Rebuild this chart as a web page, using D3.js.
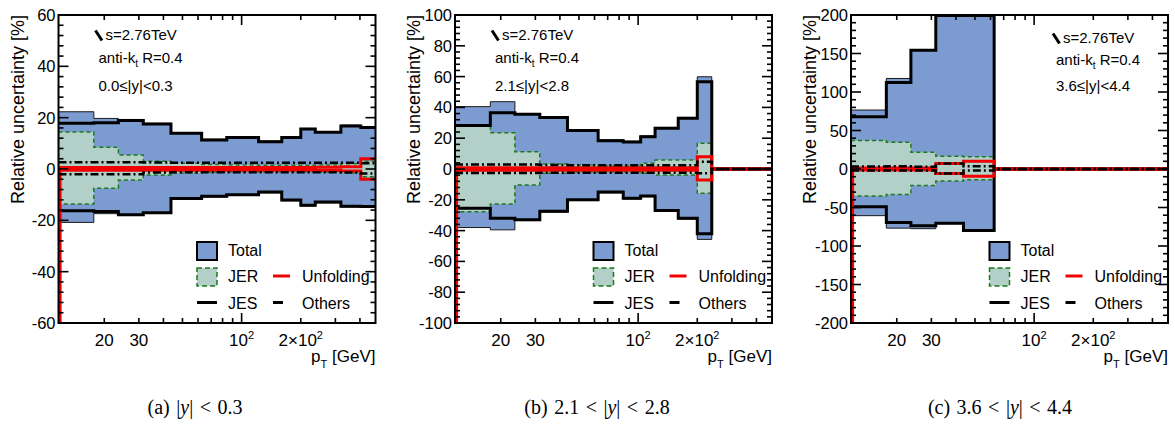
<!DOCTYPE html>
<html><head><meta charset="utf-8">
<script src="https://cdn.jsdelivr.net/npm/d3@7"></script>
<style>
body{margin:0;background:#fff}
svg text{font-family:"Liberation Sans",Arial,Helvetica,sans-serif;fill:#000}
</style>
</head><body>
<svg id="chart" width="1175" height="426"></svg>
<script>
// ---------- data ----------
const ptEdges = [11.7, 17.7, 23.6, 31.6, 43.7, 62.6, 84, 103, 122, 160, 200, 237, 320, 404, 480];
const ptDomain = [11.7, 480];
const xMinorTicks = [20, 30, 40, 50, 60, 70, 80, 90, 200, 300, 400];
const xMajorTicks = [100];
const xTickLabels = [["20", ""], ["30", ""], ["10", "2"], ["2×10", "2"]];
const xTickLabelPos = [20, 30, 100, 200];

// panel (a) 0.0<=|y|<0.3
const totalUpA = [22.3, 19.7, 19.3, 17.8, 14.2, 11.6, 12.6, 12.6, 10.9, 12.6, 15.8, 14.6, 17.1, 16.5];
const totalDnA = [-20.8, -17.4, -18.1, -17.3, -11.8, -10.9, -10.3, -10.3, -9.3, -12.4, -14.4, -13.2, -14.8, -14.9];
const jesUpA = [17.8, 18.0, 18.9, 17.5, 13.9, 11.3, 12.3, 12.3, 10.6, 12.3, 15.6, 14.3, 16.8, 16.2];
const jesDnA = [-16.3, -16.6, -17.8, -17.0, -11.5, -10.6, -10.0, -10.0, -9.0, -12.1, -14.1, -12.9, -14.5, -14.6];
const jerUpA = [14.4, 8.5, 5.5, 3.0, 2.2, 1.8, 1.6, 1.6, 1.5, 1.5, 1.5, 1.6, 2.0, 3.0];
const jerDnA = [-13.6, -7.5, -4.3, -2.3, -1.6, -1.3, -1.2, -1.2, -1.1, -1.1, -1.1, -1.2, -1.6, -3.0];
const othUpA = [2.6, 2.6, 2.6, 2.5, 2.4, 2.4, 2.4, 2.4, 2.4, 2.4, 2.4, 2.4, 2.4, 2.2];
const othDnA = [-2.0, -2.0, -2.0, -1.4, -1.3, -1.3, -1.3, -1.3, -1.3, -1.3, -1.3, -1.3, -1.4, -1.8];
const unfUpA = [0.6, 0.6, 0.6, 0.6, 0.6, 0.6, 0.6, 0.6, 0.6, 0.6, 0.6, 0.7, 0.9, 4.0];
const unfDnA = [-0.5, -0.5, -0.5, -0.5, -0.5, -0.5, -0.5, -0.5, -0.5, -0.5, -0.5, -0.6, -0.8, -4.0];

// panel (b) 2.1<=|y|<2.8
const totalUpB = [40.5, 43.7, 36.0, 34.0, 25.5, 19.0, 18.0, 21.5, 27.0, 33.5, 59.9, 0, 0, 0];
const totalDnB = [-38.0, -39.5, -33.5, -28.0, -20.5, -15.5, -19.5, -18.0, -27.5, -32.5, -45.7, 0, 0, 0];
const jesUpB = [28.2, 36.5, 35.5, 33.5, 25.0, 18.4, 17.5, 21.0, 26.4, 33.0, 56.7, 0, 0, 0];
const jesDnB = [-25.5, -32.0, -33.0, -27.5, -20.0, -15.0, -19.0, -17.5, -27.0, -32.0, -42.0, 0, 0, 0];
const jerUpB = [27.9, 23.6, 11.2, 3.2, 2.6, 2.0, 2.0, 3.7, 5.8, 5.8, 16.7, 0, 0, 0];
const jerDnB = [-27.7, -22.7, -10.4, -2.8, -2.0, -2.0, -2.0, -2.8, -3.9, -3.9, -15.8, 0, 0, 0];
const othUpB = [3.0, 3.0, 3.0, 2.6, 2.5, 2.5, 2.5, 2.5, 2.5, 2.5, 4.7, 0, 0, 0];
const othDnB = [-2.6, -2.6, -2.6, -2.4, -2.4, -2.4, -2.4, -2.4, -2.4, -2.4, -2.8, 0, 0, 0];
const unfUpB = [0.8, 0.8, 0.8, 0.8, 0.8, 0.8, 0.8, 0.8, 0.8, 0.8, 8.0, 0, 0, 0];
const unfDnB = [-0.8, -0.8, -0.8, -0.8, -0.8, -0.8, -0.8, -0.8, -0.8, -0.8, -7.1, 0, 0, 0];

// panel (c) 3.6<=|y|<4.4
const totalUpC = [76.6, 117.6, 155.0, 199.5, 199.5, 0, 0, 0, 0, 0, 0, 0, 0, 0];
const totalDnC = [-60.6, -76.8, -77.5, -71.0, -80.5, 0, 0, 0, 0, 0, 0, 0, 0, 0];
const jesUpC = [68.0, 112.4, 154.3, 199.5, 199.5, 0, 0, 0, 0, 0, 0, 0, 0, 0];
const jesDnC = [-48.9, -69.5, -73.8, -70.6, -80.0, 0, 0, 0, 0, 0, 0, 0, 0, 0];
const jerUpC = [36.9, 34.7, 21.8, 16.6, 16.0, 0, 0, 0, 0, 0, 0, 0, 0, 0];
const jerDnC = [-35.2, -33.0, -21.4, -15.7, -14.0, 0, 0, 0, 0, 0, 0, 0, 0, 0];
const othUpC = [3.2, 3.5, 3.0, 7.0, 3.6, 0, 0, 0, 0, 0, 0, 0, 0, 0];
const othDnC = [-2.0, -2.0, -2.0, -6.0, -2.0, 0, 0, 0, 0, 0, 0, 0, 0, 0];
const unfUpC = [1.2, 1.2, 1.2, 7.0, 10.1, 0, 0, 0, 0, 0, 0, 0, 0, 0];
const unfDnC = [-1.2, -1.2, -1.2, -6.0, -9.3, 0, 0, 0, 0, 0, 0, 0, 0, 0];

const yDomainA = [-60, 60], yTicksA = [-60, -40, -20, 0, 20, 40, 60];
const yDomainB = [-100, 100], yTicksB = [-100, -80, -60, -40, -20, 0, 20, 40, 60, 80, 100];
const yDomainC = [-200, 200], yTicksC = [-200, -150, -100, -50, 0, 50, 100, 150, 200];

const rapidityLabels = ["0.0≤|y|<0.3", "2.1≤|y|<2.8", "3.6≤|y|<4.4"];
const legendNames = ["Total", "JER", "Unfolding", "JES", "Others"];
const energyLabel = "s=2.76TeV";
const yTitle = "Relative uncertainty [%]";

// ---------- style ----------
const C_TOTAL = "#7b9bd1", C_JER = "#b2d0c7", C_JER_LINE = "#1c7a1c", C_RED = "#f00000";
const TOP = 15, BOTTOM = 323, PW = 317;

const panels = [
  {L: 58.5, yDom: yDomainA, yTicks: yTicksA, minor: 4, annoX: 40, annoY: 0, rap: rapidityLabels[0],
   totalUp: totalUpA, totalDn: totalDnA, jesUp: jesUpA, jesDn: jesDnA, jerUp: jerUpA, jerDn: jerDnA,
   othUp: othUpA, othDn: othDnA, unfUp: unfUpA, unfDn: unfDnA, cap: "a", capLo: "", capHi: "0.3", capX: 195},
  {L: 455, yDom: yDomainB, yTicks: yTicksB, minor: 4, annoX: 40, annoY: 0, rap: rapidityLabels[1],
   totalUp: totalUpB, totalDn: totalDnB, jesUp: jesUpB, jesDn: jesDnB, jerUp: jerUpB, jerDn: jerDnB,
   othUp: othUpB, othDn: othDnB, unfUp: unfUpB, unfDn: unfDnB, cap: "b", capLo: "2.1", capHi: "2.8", capX: 597},
  {L: 851, yDom: yDomainC, yTicks: yTicksC, minor: 10, annoX: 205, annoY: 3, rap: rapidityLabels[2],
   totalUp: totalUpC, totalDn: totalDnC, jesUp: jesUpC, jesDn: jesDnC, jerUp: jerUpC, jerDn: jerDnC,
   othUp: othUpC, othDn: othDnC, unfUp: unfUpC, unfDn: unfDnC, cap: "c", capLo: "3.6", capHi: "4.4", capX: 1000}
];

const svg = d3.select("#chart");

function stepD(x, y, vals, startY) {
  let d = "";
  const n = vals.length;
  if (startY !== undefined) d = `M${x(ptEdges[0]) + 1.6},${startY}V${y(vals[0])}H${x(ptEdges[1])}`;
  else d = `M${x(ptEdges[0])},${y(vals[0])}H${x(ptEdges[1])}`;
  for (let i = 1; i < n; i++) d += `V${y(vals[i])}H${x(ptEdges[i + 1])}`;
  return d;
}
function bandD(x, y, up, dn) {
  let d = `M${x(ptEdges[0])},${y(up[0])}`;
  for (let i = 0; i < up.length; i++) d += `H${x(ptEdges[i + 1])}` + (i + 1 < up.length ? `V${y(up[i + 1])}` : "");
  d += `V${y(dn[dn.length - 1])}`;
  for (let i = dn.length - 1; i >= 0; i--) d += `H${x(ptEdges[i])}` + (i > 0 ? `V${y(dn[i - 1])}` : "");
  return d + "Z";
}

panels.forEach((p, pi) => {
  const x = d3.scaleLog().domain(ptDomain).range([p.L, p.L + PW]);
  const y = d3.scaleLinear().domain(p.yDom).range([BOTTOM, TOP]);
  const g = svg.append("g");
  const clipId = "clip" + pi;
  svg.append("clipPath").attr("id", clipId).append("rect")
    .attr("x", p.L).attr("y", TOP).attr("width", PW).attr("height", BOTTOM - TOP);
  const plot = g.append("g").attr("clip-path", `url(#${clipId})`);

  plot.append("path").attr("d", bandD(x, y, p.totalUp, p.totalDn))
    .attr("fill", C_TOTAL).attr("stroke", "#1a1a1a").attr("stroke-width", 1);
  plot.append("path").attr("d", bandD(x, y, p.jerUp, p.jerDn))
    .attr("fill", C_JER).attr("stroke", C_JER_LINE).attr("stroke-width", 1.5).attr("stroke-dasharray", "4,3");
  [p.jesUp, p.jesDn].forEach(v => plot.append("path").attr("d", stepD(x, y, v))
    .attr("fill", "none").attr("stroke", "#000").attr("stroke-width", 3));
  plot.append("path").attr("d", stepD(x, y, p.unfUp))
    .attr("fill", "none").attr("stroke", C_RED).attr("stroke-width", 3);
  plot.append("path").attr("d", stepD(x, y, p.unfDn, BOTTOM + 5))
    .attr("fill", "none").attr("stroke", C_RED).attr("stroke-width", 3);
  [p.othUp, p.othDn].forEach(v => plot.append("path").attr("d", stepD(x, y, v))
    .attr("fill", "none").attr("stroke", "#000").attr("stroke-width", 2.5).attr("stroke-dasharray", "8,3,2,3"));

  // frame
  g.append("rect").attr("x", p.L).attr("y", TOP).attr("width", PW).attr("height", BOTTOM - TOP)
    .attr("fill", "none").attr("stroke", "#000").attr("stroke-width", 2);

  // y ticks
  const yMinor = d3.range(p.yDom[0], p.yDom[1] + 0.001, p.minor);
  const tk = g.append("g").attr("stroke", "#000").attr("stroke-width", 1.6);
  yMinor.forEach(v => {
    const isMajor = p.yTicks.includes(v);
    const len = isMajor ? 10 : 5;
    tk.append("line").attr("x1", p.L).attr("x2", p.L + len).attr("y1", y(v)).attr("y2", y(v));
    tk.append("line").attr("x1", p.L + PW).attr("x2", p.L + PW - len).attr("y1", y(v)).attr("y2", y(v));
  });
  xMinorTicks.concat(xMajorTicks).forEach(v => {
    const len = xMajorTicks.includes(v) ? 10 : 5;
    tk.append("line").attr("x1", x(v)).attr("x2", x(v)).attr("y1", BOTTOM).attr("y2", BOTTOM - len);
    tk.append("line").attr("x1", x(v)).attr("x2", x(v)).attr("y1", TOP).attr("y2", TOP + len);
  });
  // y tick labels
  p.yTicks.forEach(v => {
    g.append("text").attr("x", p.L - 3).attr("y", y(v) + 6).attr("text-anchor", "end")
      .attr("font-size", 16.5).text(v);
  });
  // x tick labels
  xTickLabelPos.forEach((v, i) => {
    const t = g.append("text").attr("x", x(v)).attr("y", 346).attr("text-anchor", "middle").attr("font-size", 17);
    t.append("tspan").text(xTickLabels[i][0]);
    if (xTickLabels[i][1]) t.append("tspan").attr("dy", -7).attr("font-size", 11).text(xTickLabels[i][1]);
  });
  // x title
  const xt = g.append("text").attr("x", p.L + PW).attr("y", 362).attr("text-anchor", "end").attr("font-size", 17);
  xt.append("tspan").text("p");
  xt.append("tspan").attr("dy", 6).attr("font-size", 11).text("T");
  xt.append("tspan").attr("dy", -6).text(" [GeV]");
  // y title
  g.append("text").attr("transform", `translate(${p.L - 35},${TOP}) rotate(-90)`)
    .attr("text-anchor", "end").attr("font-size", 18).text(yTitle);

  // annotations
  const ax = p.L + p.annoX, ay = p.annoY;
  g.append("line").attr("x1", ax - 3).attr("y1", 30.5 + ay).attr("x2", ax + 3.5).attr("y2", 40.5 + ay)
    .attr("stroke", "#000").attr("stroke-width", 3);
  g.append("text").attr("x", ax + 7).attr("y", 39.5 + ay).attr("font-size", 15).text(energyLabel);
  const ak = g.append("text").attr("x", ax).attr("y", 63 + ay * 0.6).attr("font-size", 15);
  ak.append("tspan").text("anti-k");
  ak.append("tspan").attr("dy", 4).attr("font-size", 10).text("t");
  ak.append("tspan").attr("dy", -4).text(" R=0.4");
  g.append("text").attr("x", ax).attr("y", 90.5).attr("font-size", 15).text(p.rap);

  // legend
  const lx = p.L + 138.5;
  g.append("rect").attr("x", lx).attr("y", 242).attr("width", 20).attr("height", 18)
    .attr("fill", C_TOTAL).attr("stroke", "#000").attr("stroke-width", 2);
  g.append("rect").attr("x", lx).attr("y", 268).attr("width", 20).attr("height", 18)
    .attr("fill", C_JER).attr("stroke", C_JER_LINE).attr("stroke-width", 1.5).attr("stroke-dasharray", "5,3");
  g.append("line").attr("x1", lx).attr("x2", lx + 20).attr("y1", 302.5).attr("y2", 302.5)
    .attr("stroke", "#000").attr("stroke-width", 3);
  g.append("line").attr("x1", lx + 76).attr("x2", lx + 93).attr("y1", 276).attr("y2", 276)
    .attr("stroke", C_RED).attr("stroke-width", 3);
  g.append("line").attr("x1", lx + 76).attr("x2", lx + 86).attr("y1", 302.5).attr("y2", 302.5)
    .attr("stroke", "#000").attr("stroke-width", 3);
  const lt = [[lx + 31, 256, legendNames[0]], [lx + 31, 282, legendNames[1]], [lx + 105, 282, legendNames[2]],
              [lx + 31, 308.5, legendNames[3]], [lx + 105, 308.5, legendNames[4]]];
  lt.forEach(d => g.append("text").attr("x", d[0]).attr("y", d[1]).attr("font-size", 16).text(d[2]));

  // caption
  const cap = svg.append("text").attr("x", p.capX).attr("y", 414).attr("text-anchor", "middle")
    .style("font-family", "'Liberation Serif','Times New Roman',serif").attr("font-size", 20)
    .attr("word-spacing", 1.5);
  cap.append("tspan").text(`(${p.cap}) ` + (p.capLo ? p.capLo + " < " : ""));
  cap.append("tspan").text("|");
  cap.append("tspan").style("font-style", "italic").text("y");
  cap.append("tspan").text(`| < ${p.capHi}`);
});
</script>
</body></html>
